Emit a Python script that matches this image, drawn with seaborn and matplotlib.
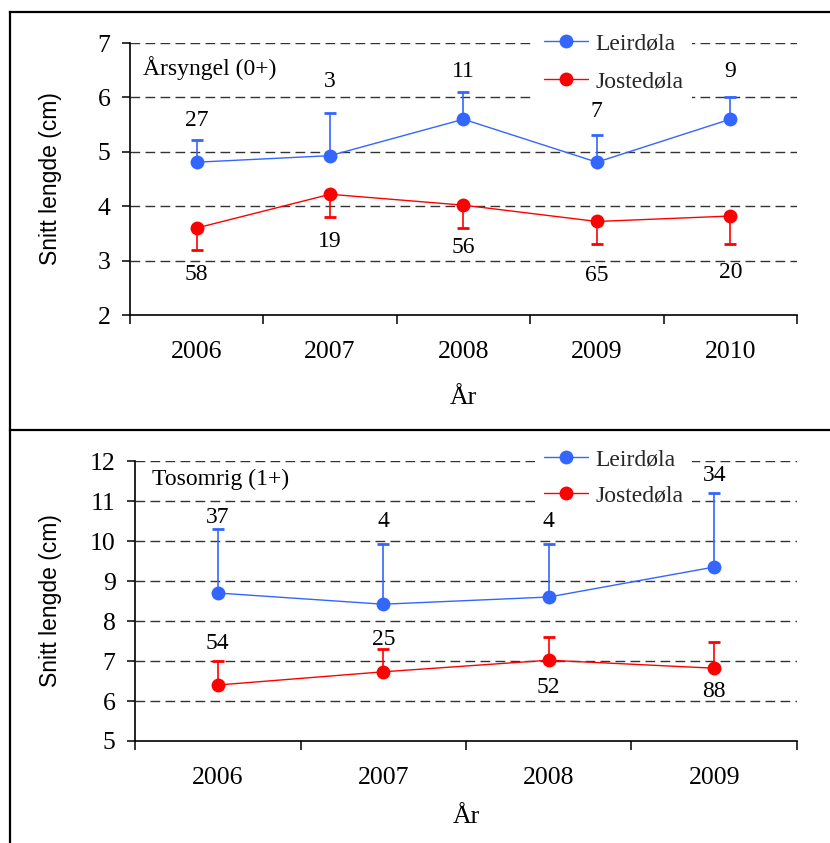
import numpy as np
import pandas as pd
import matplotlib
matplotlib.use("Agg")
import matplotlib.pyplot as plt
from matplotlib.lines import Line2D
import seaborn as sns

# ---------------- data ----------------
years_top = ["2006", "2007", "2008", "2009", "2010"]
leir_top = [4.81, 4.93, 5.60, 4.81, 5.60]
leir_top_err = [0.41, 0.78, 0.50, 0.50, 0.40]
leir_top_n = [27, 3, 11, 7, 9]
leir_top_label_y = [5.57, 6.29, 6.47, 5.75, 6.47]
jost_top = [3.60, 4.22, 4.02, 3.72, 3.82]
jost_top_err = [0.40, 0.42, 0.42, 0.41, 0.51]
jost_top_n = [58, 19, 56, 65, 20]
jost_top_label_y = [2.74, 3.36, 3.25, 2.72, 2.78]

years_bot = ["2006", "2007", "2008", "2009"]
leir_bot = [8.70, 8.42, 8.60, 9.35]
leir_bot_err = [1.60, 1.51, 1.33, 1.85]
leir_bot_n = [37, 4, 4, 34]
leir_bot_label_y = [10.60, 10.48, 10.48, 11.63]
jost_bot = [6.40, 6.73, 7.02, 6.82]
jost_bot_err = [0.60, 0.57, 0.58, 0.66]
jost_bot_n = [54, 25, 52, 88]
jost_bot_label_y = [7.45, 7.55, 6.35, 6.23]

series_names = ["Leirdøla", "Jostedøla"]
BLUE = "#3366FF"
RED = "#FF0000"

sns.set_theme(style="white")
plt.rcParams["font.family"] = ["Liberation Serif", "DejaVu Serif"]
plt.rcParams["axes.unicode_minus"] = False

fig = plt.figure(figsize=(8.30, 8.43), dpi=100)
fig.patch.set_facecolor("white")

ax_top = fig.add_axes([0.1566, 0.6263, 0.8036, 0.3226])
ax_bot = fig.add_axes([0.1627, 0.1210, 0.7975, 0.3321])


def draw_panel(ax, years, leir, leir_err, leir_n, leir_ly,
               jost, jost_err, jost_n, jost_ly, jost_up,
               ylim, grid_vals, title, title_xy, legend_anchor, labelspacing):
    n = len(years)
    x = np.arange(n)
    # grid lines
    for g in grid_vals:
        ax.axhline(g, color="#333333", lw=1.0, ls=(0, (7, 3.8)), zorder=0)

    df_l = pd.DataFrame({"x": x, "y": leir})
    df_j = pd.DataFrame({"x": x, "y": jost})
    sns.lineplot(data=df_l, x="x", y="y", ax=ax, color=BLUE, lw=1.0,
                 marker="o", markersize=10, markeredgewidth=0,
                 label=series_names[0], zorder=4)
    sns.lineplot(data=df_j, x="x", y="y", ax=ax, color=RED, lw=1.0,
                 marker="o", markersize=10, markeredgewidth=0,
                 label=series_names[1], zorder=4)

    zeros = np.zeros(n)
    ax.errorbar(x, leir, yerr=[zeros, np.array(leir_err)], fmt="none",
                ecolor=BLUE, elinewidth=1.2, capsize=4.5, capthick=2.0, zorder=3)
    if jost_up:
        jerr = [zeros, np.array(jost_err)]
    else:
        jerr = [np.array(jost_err), zeros]
    ax.errorbar(x, jost, yerr=jerr, fmt="none",
                ecolor=RED, elinewidth=1.2, capsize=4.5, capthick=2.0, zorder=3)

    for i in range(n):
        ax.text(x[i], leir_ly[i], str(leir_n[i]), ha="center", va="center",
                fontsize=17, color="black", zorder=6)
        ax.text(x[i], jost_ly[i], str(jost_n[i]), ha="center", va="center",
                fontsize=17, color="black", zorder=6)

    ax.text(title_xy[0], title_xy[1], title, ha="left", va="center",
            fontsize=17, color="black", zorder=6)

    ax.set_xlim(-0.5, n - 0.5)
    ax.set_ylim(*ylim)
    ax.set_yticks(np.arange(ylim[0], ylim[1] + 1, 1))
    ax.set_xticks(np.arange(-0.5, n, 1.0))
    ax.set_xticklabels([])
    ax.set_xticks(x, minor=True)
    ax.set_xticklabels(years, minor=True)
    ax.tick_params(axis="x", which="major", direction="out", length=6.5,
                   width=1.1, color="black", bottom=True)
    ax.tick_params(axis="x", which="minor", length=0, pad=19,
                   labelsize=18.5, labelcolor="black", bottom=True)
    ax.tick_params(axis="y", direction="out", length=6, width=1.1,
                   color="black", left=True, pad=8, labelsize=18.5,
                   labelcolor="black")

    for s in ["top", "right"]:
        ax.spines[s].set_visible(False)
    for s in ["left", "bottom"]:
        ax.spines[s].set_color("black")
        ax.spines[s].set_linewidth(1.2)
    ax.set_facecolor("white")
    ax.grid(False)

    ax.set_ylabel("Snitt lengde (cm)", fontsize=16.5, family="Liberation Sans",
                  color="black")
    ax.set_xlabel("År", fontsize=18.5, color="black")

    leg = ax.legend(loc="upper left", bbox_to_anchor=legend_anchor,
                    borderaxespad=0, frameon=True, fancybox=False,
                    framealpha=1, facecolor="white", edgecolor="none",
                    fontsize=17, handlelength=1.85, handletextpad=0.3,
                    labelspacing=labelspacing, borderpad=0.4)
    leg.set_zorder(5)
    return ax


draw_panel(ax_top, years_top, leir_top, leir_top_err, leir_top_n, leir_top_label_y,
           jost_top, jost_top_err, jost_top_n, jost_top_label_y, False,
           (2, 7), [3, 4, 5, 6, 7], "Årsyngel (0+)", (-0.40, 6.54),
           (0.607, 1.073), 0.72)
draw_panel(ax_bot, years_bot, leir_bot, leir_bot_err, leir_bot_n, leir_bot_label_y,
           jost_bot, jost_bot_err, jost_bot_n, jost_bot_label_y, True,
           (5, 12), [6, 7, 8, 9, 10, 11, 12], "Tosomrig (1+)", (-0.40, 11.55),
           (0.604, 1.078), 0.62)

ax_top.yaxis.set_label_coords(-0.102, 0.5)
ax_bot.yaxis.set_label_coords(-0.110, 0.5)
ax_top.xaxis.label.set_va("center")
ax_bot.xaxis.label.set_va("center")
ax_top.xaxis.set_label_coords(0.5, -0.305)
ax_bot.xaxis.set_label_coords(0.5, -0.271)

# panel borders
W, H = 830.0, 843.0
bx = 10 / W
by_top = 1 - 12 / H
by_mid = 1 - 430 / H
for (xs, ys) in [((bx, 1.0), (by_top, by_top)),
                 ((bx, bx), (0.0, by_top)),
                 ((bx, 1.0), (by_mid, by_mid))]:
    fig.add_artist(Line2D(xs, ys, color="black", lw=1.6,
                          transform=fig.transFigure, solid_capstyle="projecting"))

fig.savefig("out.png", dpi=100, facecolor="white")
